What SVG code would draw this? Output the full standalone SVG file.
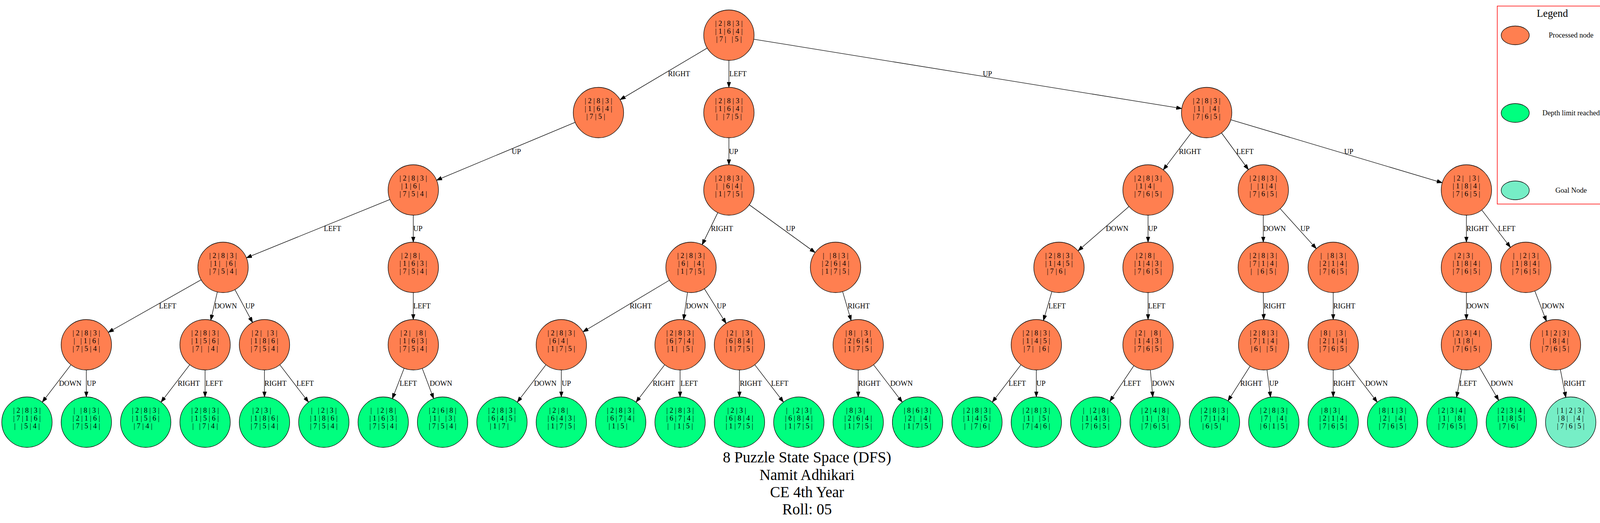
<svg xmlns="http://www.w3.org/2000/svg" width="4133" height="1338" viewBox="0 0 4133 1338">
<style>
text{font-family:"Liberation Serif","Times New Roman",serif;font-size:18.5px;fill:#000}
.nt{text-anchor:middle;white-space:pre}
circle,ellipse{stroke:#000;stroke-width:1.3}
.p{fill:#FF7F50}.d{fill:#00FF7F}.g{fill:#76EEC6}
#edges line{stroke:#000;stroke-width:1.3;marker-end:url(#arr)}
.lt{font-size:26.7px;text-anchor:middle}
.lg{text-anchor:middle}
.ti{font-size:39px;text-anchor:middle}
</style>
<defs>
<marker id="arr" markerUnits="userSpaceOnUse" markerWidth="14" markerHeight="10" refX="14" refY="5" orient="auto"><path d="M0,0 L14,5 L0,10 z" fill="#000" stroke="#000" stroke-width="1"/></marker>
</defs>
<rect width="4133" height="1338" fill="#fff"/>
<g id="edges">
<line x1="1810.5" y1="122.9" x2="1587.5" y2="255.1"/>
<line x1="1866" y1="154.5" x2="1866" y2="223.5"/>
<line x1="1929.7" y1="100.3" x2="3025.3" y2="277.7"/>
<line x1="1472.5" y1="312.9" x2="1117.5" y2="461.1"/>
<line x1="1866" y1="352.5" x2="1866" y2="421.5"/>
<line x1="3050" y1="339.4" x2="2978" y2="434.6"/>
<line x1="3127.1" y1="340" x2="3195.9" y2="434"/>
<line x1="3150.8" y1="306.4" x2="3692.2" y2="467.6"/>
<line x1="998.2" y1="510.3" x2="630.8" y2="659.7"/>
<line x1="1058" y1="550.5" x2="1058" y2="619.5"/>
<line x1="1837.6" y1="543.9" x2="1797.4" y2="626.1"/>
<line x1="1918.2" y1="523.9" x2="2086.8" y2="646.1"/>
<line x1="2890.3" y1="528.3" x2="2759.7" y2="641.7"/>
<line x1="2939" y1="550.5" x2="2939" y2="619.5"/>
<line x1="3234" y1="550.5" x2="3234" y2="619.5"/>
<line x1="3277.3" y1="533.9" x2="3369.7" y2="636.1"/>
<line x1="3754" y1="550.5" x2="3754" y2="619.5"/>
<line x1="3793.3" y1="537.2" x2="3866.7" y2="632.8"/>
<line x1="514.9" y1="715.8" x2="277.1" y2="850.2"/>
<line x1="556.4" y1="746.8" x2="539.6" y2="819.2"/>
<line x1="601.4" y1="740.9" x2="646.6" y2="825.1"/>
<line x1="1058" y1="748.5" x2="1058" y2="817.5"/>
<line x1="1713.6" y1="717" x2="1492.4" y2="849"/>
<line x1="1760" y1="747.9" x2="1750" y2="818.1"/>
<line x1="1803.2" y1="738.7" x2="1858.8" y2="827.3"/>
<line x1="2157.1" y1="745.9" x2="2178.9" y2="820.1"/>
<line x1="2692.9" y1="745.9" x2="2671.1" y2="820.1"/>
<line x1="2939" y1="748.5" x2="2939" y2="817.5"/>
<line x1="3234" y1="748.5" x2="3235" y2="817.5"/>
<line x1="3413" y1="748.5" x2="3413" y2="817.5"/>
<line x1="3754" y1="748.5" x2="3754" y2="817.5"/>
<line x1="3929.1" y1="744.2" x2="3958.9" y2="821.8"/>
<line x1="181.7" y1="933.2" x2="108.3" y2="1028.8"/>
<line x1="221" y1="946.5" x2="221" y2="1015.5"/>
<line x1="485.7" y1="933.2" x2="412.3" y2="1028.8"/>
<line x1="525" y1="946.5" x2="525" y2="1015.5"/>
<line x1="677" y1="946.5" x2="677" y2="1015.5"/>
<line x1="716.3" y1="933.2" x2="789.7" y2="1028.8"/>
<line x1="1034.6" y1="942.1" x2="1004.4" y2="1019.9"/>
<line x1="1080.9" y1="942.3" x2="1110.1" y2="1019.7"/>
<line x1="1397.7" y1="933.2" x2="1324.3" y2="1028.8"/>
<line x1="1437" y1="946.5" x2="1437" y2="1015.5"/>
<line x1="1701.7" y1="933.2" x2="1628.3" y2="1028.8"/>
<line x1="1741" y1="946.5" x2="1741" y2="1015.5"/>
<line x1="1893" y1="946.5" x2="1893" y2="1015.5"/>
<line x1="1932.3" y1="933.2" x2="2005.7" y2="1028.8"/>
<line x1="2197" y1="946.5" x2="2197" y2="1015.5"/>
<line x1="2236.3" y1="933.2" x2="2309.7" y2="1028.8"/>
<line x1="2613.7" y1="933.2" x2="2540.3" y2="1028.8"/>
<line x1="2653" y1="946.5" x2="2653" y2="1015.5"/>
<line x1="2902.8" y1="935.4" x2="2841.2" y2="1026.6"/>
<line x1="2944.8" y1="946.2" x2="2951.2" y2="1015.8"/>
<line x1="3200.4" y1="936.4" x2="3143.6" y2="1025.6"/>
<line x1="3243.4" y1="946" x2="3252.6" y2="1016"/>
<line x1="3413" y1="946.5" x2="3413" y2="1015.5"/>
<line x1="3452.3" y1="933.2" x2="3525.7" y2="1028.8"/>
<line x1="3742.2" y1="945.4" x2="3728.8" y2="1016.6"/>
<line x1="3786.4" y1="937.8" x2="3836.6" y2="1024.2"/>
<line x1="3994.5" y1="945.3" x2="4008.5" y2="1016.7"/>
<text x="1710" y="195">RIGHT</text>
<text x="1867" y="195">LEFT</text>
<text x="2516" y="195">UP</text>
<text x="1310" y="394">UP</text>
<text x="1866" y="394">UP</text>
<text x="3018" y="394">RIGHT</text>
<text x="3165" y="394">LEFT</text>
<text x="3441" y="394">UP</text>
<text x="829" y="591">LEFT</text>
<text x="1058" y="591">UP</text>
<text x="1820" y="591">RIGHT</text>
<text x="2012" y="591">UP</text>
<text x="2831" y="591">DOWN</text>
<text x="2939" y="591">UP</text>
<text x="3234" y="591">DOWN</text>
<text x="3329" y="591">UP</text>
<text x="3754" y="591">RIGHT</text>
<text x="3835" y="591">LEFT</text>
<text x="407" y="789">LEFT</text>
<text x="549" y="789">DOWN</text>
<text x="628" y="789">UP</text>
<text x="1058" y="789">LEFT</text>
<text x="1612" y="789">RIGHT</text>
<text x="1756" y="789">DOWN</text>
<text x="1835" y="789">UP</text>
<text x="2170" y="789">RIGHT</text>
<text x="2684" y="789">LEFT</text>
<text x="2939" y="789">LEFT</text>
<text x="3235" y="789">RIGHT</text>
<text x="3413" y="789">RIGHT</text>
<text x="3754" y="789">DOWN</text>
<text x="3947" y="789">DOWN</text>
<text x="151" y="987">DOWN</text>
<text x="222" y="987">UP</text>
<text x="455" y="987">RIGHT</text>
<text x="526" y="987">LEFT</text>
<text x="677" y="987">RIGHT</text>
<text x="759" y="987">LEFT</text>
<text x="1023" y="987">LEFT</text>
<text x="1100" y="987">DOWN</text>
<text x="1367" y="987">DOWN</text>
<text x="1438" y="987">UP</text>
<text x="1671" y="987">RIGHT</text>
<text x="1742" y="987">LEFT</text>
<text x="1894" y="987">RIGHT</text>
<text x="1974" y="987">LEFT</text>
<text x="2197" y="987">RIGHT</text>
<text x="2279" y="987">DOWN</text>
<text x="2582" y="987">LEFT</text>
<text x="2653" y="987">UP</text>
<text x="2876" y="987">LEFT</text>
<text x="2949" y="987">DOWN</text>
<text x="3175" y="987">RIGHT</text>
<text x="3249" y="987">UP</text>
<text x="3413" y="987">RIGHT</text>
<text x="3495" y="987">DOWN</text>
<text x="3736" y="987">LEFT</text>
<text x="3816" y="987">DOWN</text>
<text x="4003" y="987">RIGHT</text>
</g>
<g id="n_root"><circle class="p" cx="1866" cy="90" r="64.5"/><text class="nt" xml:space="preserve"><tspan x="1866" y="66">| 2 | 8 | 3 |</tspan><tspan x="1866" y="86">| 1 | 6 | 4 |</tspan><tspan x="1866" y="106">| 7 |   | 5 |</tspan></text></g>
<g id="n_A"><circle class="p" cx="1532" cy="288" r="64.5"/><text class="nt" xml:space="preserve"><tspan x="1532" y="264">| 2 | 8 | 3 |</tspan><tspan x="1532" y="284">| 1 | 6 | 4 |</tspan><tspan x="1532" y="304">| 7 | 5 |   </tspan></text></g>
<g id="n_B"><circle class="p" cx="1866" cy="288" r="64.5"/><text class="nt" xml:space="preserve"><tspan x="1866" y="264">| 2 | 8 | 3 |</tspan><tspan x="1866" y="284">| 1 | 6 | 4 |</tspan><tspan x="1866" y="304">|   | 7 | 5 |</tspan></text></g>
<g id="n_C"><circle class="p" cx="3089" cy="288" r="64.5"/><text class="nt" xml:space="preserve"><tspan x="3089" y="264">| 2 | 8 | 3 |</tspan><tspan x="3089" y="284">| 1 |   | 4 |</tspan><tspan x="3089" y="304">| 7 | 6 | 5 |</tspan></text></g>
<g id="n_A1"><circle class="p" cx="1058" cy="486" r="64.5"/><text class="nt" xml:space="preserve"><tspan x="1058" y="462">| 2 | 8 | 3 |</tspan><tspan x="1058" y="482">| 1 | 6 |   </tspan><tspan x="1058" y="502">| 7 | 5 | 4 |</tspan></text></g>
<g id="n_B1"><circle class="p" cx="1866" cy="486" r="64.5"/><text class="nt" xml:space="preserve"><tspan x="1866" y="462">| 2 | 8 | 3 |</tspan><tspan x="1866" y="482">|   | 6 | 4 |</tspan><tspan x="1866" y="502">| 1 | 7 | 5 |</tspan></text></g>
<g id="n_C1"><circle class="p" cx="2939" cy="486" r="64.5"/><text class="nt" xml:space="preserve"><tspan x="2939" y="462">| 2 | 8 | 3 |</tspan><tspan x="2939" y="482">| 1 | 4 |   </tspan><tspan x="2939" y="502">| 7 | 6 | 5 |</tspan></text></g>
<g id="n_C2"><circle class="p" cx="3234" cy="486" r="64.5"/><text class="nt" xml:space="preserve"><tspan x="3234" y="462">| 2 | 8 | 3 |</tspan><tspan x="3234" y="482">|   | 1 | 4 |</tspan><tspan x="3234" y="502">| 7 | 6 | 5 |</tspan></text></g>
<g id="n_C3"><circle class="p" cx="3754" cy="486" r="64.5"/><text class="nt" xml:space="preserve"><tspan x="3754" y="462">| 2 |   | 3 |</tspan><tspan x="3754" y="482">| 1 | 8 | 4 |</tspan><tspan x="3754" y="502">| 7 | 6 | 5 |</tspan></text></g>
<g id="n_A11"><circle class="p" cx="571" cy="684" r="64.5"/><text class="nt" xml:space="preserve"><tspan x="571" y="660">| 2 | 8 | 3 |</tspan><tspan x="571" y="680">| 1 |   | 6 |</tspan><tspan x="571" y="700">| 7 | 5 | 4 |</tspan></text></g>
<g id="n_A12"><circle class="p" cx="1058" cy="684" r="64.5"/><text class="nt" xml:space="preserve"><tspan x="1058" y="660">| 2 | 8 |   </tspan><tspan x="1058" y="680">| 1 | 6 | 3 |</tspan><tspan x="1058" y="700">| 7 | 5 | 4 |</tspan></text></g>
<g id="n_B11"><circle class="p" cx="1769" cy="684" r="64.5"/><text class="nt" xml:space="preserve"><tspan x="1769" y="660">| 2 | 8 | 3 |</tspan><tspan x="1769" y="680">| 6 |   | 4 |</tspan><tspan x="1769" y="700">| 1 | 7 | 5 |</tspan></text></g>
<g id="n_B12"><circle class="p" cx="2139" cy="684" r="64.5"/><text class="nt" xml:space="preserve"><tspan x="2139" y="660">|   | 8 | 3 |</tspan><tspan x="2139" y="680">| 2 | 6 | 4 |</tspan><tspan x="2139" y="700">| 1 | 7 | 5 |</tspan></text></g>
<g id="n_C11"><circle class="p" cx="2711" cy="684" r="64.5"/><text class="nt" xml:space="preserve"><tspan x="2711" y="660">| 2 | 8 | 3 |</tspan><tspan x="2711" y="680">| 1 | 4 | 5 |</tspan><tspan x="2711" y="700">| 7 | 6 |   </tspan></text></g>
<g id="n_C12"><circle class="p" cx="2939" cy="684" r="64.5"/><text class="nt" xml:space="preserve"><tspan x="2939" y="660">| 2 | 8 |   </tspan><tspan x="2939" y="680">| 1 | 4 | 3 |</tspan><tspan x="2939" y="700">| 7 | 6 | 5 |</tspan></text></g>
<g id="n_C21"><circle class="p" cx="3234" cy="684" r="64.5"/><text class="nt" xml:space="preserve"><tspan x="3234" y="660">| 2 | 8 | 3 |</tspan><tspan x="3234" y="680">| 7 | 1 | 4 |</tspan><tspan x="3234" y="700">|   | 6 | 5 |</tspan></text></g>
<g id="n_C22"><circle class="p" cx="3413" cy="684" r="64.5"/><text class="nt" xml:space="preserve"><tspan x="3413" y="660">|   | 8 | 3 |</tspan><tspan x="3413" y="680">| 2 | 1 | 4 |</tspan><tspan x="3413" y="700">| 7 | 6 | 5 |</tspan></text></g>
<g id="n_C31"><circle class="p" cx="3754" cy="684" r="64.5"/><text class="nt" xml:space="preserve"><tspan x="3754" y="660">| 2 | 3 |   </tspan><tspan x="3754" y="680">| 1 | 8 | 4 |</tspan><tspan x="3754" y="700">| 7 | 6 | 5 |</tspan></text></g>
<g id="n_C32"><circle class="p" cx="3906" cy="684" r="64.5"/><text class="nt" xml:space="preserve"><tspan x="3906" y="660">|   | 2 | 3 |</tspan><tspan x="3906" y="680">| 1 | 8 | 4 |</tspan><tspan x="3906" y="700">| 7 | 6 | 5 |</tspan></text></g>
<g id="n_D1"><circle class="p" cx="221" cy="882" r="64.5"/><text class="nt" xml:space="preserve"><tspan x="221" y="858">| 2 | 8 | 3 |</tspan><tspan x="221" y="878">|   | 1 | 6 |</tspan><tspan x="221" y="898">| 7 | 5 | 4 |</tspan></text></g>
<g id="n_D2"><circle class="p" cx="525" cy="882" r="64.5"/><text class="nt" xml:space="preserve"><tspan x="525" y="858">| 2 | 8 | 3 |</tspan><tspan x="525" y="878">| 1 | 5 | 6 |</tspan><tspan x="525" y="898">| 7 |   | 4 |</tspan></text></g>
<g id="n_D3"><circle class="p" cx="677" cy="882" r="64.5"/><text class="nt" xml:space="preserve"><tspan x="677" y="858">| 2 |   | 3 |</tspan><tspan x="677" y="878">| 1 | 8 | 6 |</tspan><tspan x="677" y="898">| 7 | 5 | 4 |</tspan></text></g>
<g id="n_D4"><circle class="p" cx="1058" cy="882" r="64.5"/><text class="nt" xml:space="preserve"><tspan x="1058" y="858">| 2 |   | 8 |</tspan><tspan x="1058" y="878">| 1 | 6 | 3 |</tspan><tspan x="1058" y="898">| 7 | 5 | 4 |</tspan></text></g>
<g id="n_D5"><circle class="p" cx="1437" cy="882" r="64.5"/><text class="nt" xml:space="preserve"><tspan x="1437" y="858">| 2 | 8 | 3 |</tspan><tspan x="1437" y="878">| 6 | 4 |   </tspan><tspan x="1437" y="898">| 1 | 7 | 5 |</tspan></text></g>
<g id="n_D6"><circle class="p" cx="1741" cy="882" r="64.5"/><text class="nt" xml:space="preserve"><tspan x="1741" y="858">| 2 | 8 | 3 |</tspan><tspan x="1741" y="878">| 6 | 7 | 4 |</tspan><tspan x="1741" y="898">| 1 |   | 5 |</tspan></text></g>
<g id="n_D7"><circle class="p" cx="1893" cy="882" r="64.5"/><text class="nt" xml:space="preserve"><tspan x="1893" y="858">| 2 |   | 3 |</tspan><tspan x="1893" y="878">| 6 | 8 | 4 |</tspan><tspan x="1893" y="898">| 1 | 7 | 5 |</tspan></text></g>
<g id="n_D8"><circle class="p" cx="2197" cy="882" r="64.5"/><text class="nt" xml:space="preserve"><tspan x="2197" y="858">| 8 |   | 3 |</tspan><tspan x="2197" y="878">| 2 | 6 | 4 |</tspan><tspan x="2197" y="898">| 1 | 7 | 5 |</tspan></text></g>
<g id="n_D9"><circle class="p" cx="2653" cy="882" r="64.5"/><text class="nt" xml:space="preserve"><tspan x="2653" y="858">| 2 | 8 | 3 |</tspan><tspan x="2653" y="878">| 1 | 4 | 5 |</tspan><tspan x="2653" y="898">| 7 |   | 6 |</tspan></text></g>
<g id="n_D10"><circle class="p" cx="2939" cy="882" r="64.5"/><text class="nt" xml:space="preserve"><tspan x="2939" y="858">| 2 |   | 8 |</tspan><tspan x="2939" y="878">| 1 | 4 | 3 |</tspan><tspan x="2939" y="898">| 7 | 6 | 5 |</tspan></text></g>
<g id="n_D11"><circle class="p" cx="3235" cy="882" r="64.5"/><text class="nt" xml:space="preserve"><tspan x="3235" y="858">| 2 | 8 | 3 |</tspan><tspan x="3235" y="878">| 7 | 1 | 4 |</tspan><tspan x="3235" y="898">| 6 |   | 5 |</tspan></text></g>
<g id="n_D12"><circle class="p" cx="3413" cy="882" r="64.5"/><text class="nt" xml:space="preserve"><tspan x="3413" y="858">| 8 |   | 3 |</tspan><tspan x="3413" y="878">| 2 | 1 | 4 |</tspan><tspan x="3413" y="898">| 7 | 6 | 5 |</tspan></text></g>
<g id="n_D13"><circle class="p" cx="3754" cy="882" r="64.5"/><text class="nt" xml:space="preserve"><tspan x="3754" y="858">| 2 | 3 | 4 |</tspan><tspan x="3754" y="878">| 1 | 8 |   </tspan><tspan x="3754" y="898">| 7 | 6 | 5 |</tspan></text></g>
<g id="n_D14"><circle class="p" cx="3982" cy="882" r="64.5"/><text class="nt" xml:space="preserve"><tspan x="3982" y="858">| 1 | 2 | 3 |</tspan><tspan x="3982" y="878">|   | 8 | 4 |</tspan><tspan x="3982" y="898">| 7 | 6 | 5 |</tspan></text></g>
<g id="n_L0"><circle class="d" cx="69" cy="1080" r="64.5"/><text class="nt" xml:space="preserve"><tspan x="69" y="1056">| 2 | 8 | 3 |</tspan><tspan x="69" y="1076">| 7 | 1 | 6 |</tspan><tspan x="69" y="1096">|   | 5 | 4 |</tspan></text></g>
<g id="n_L1"><circle class="d" cx="221" cy="1080" r="64.5"/><text class="nt" xml:space="preserve"><tspan x="221" y="1056">|   | 8 | 3 |</tspan><tspan x="221" y="1076">| 2 | 1 | 6 |</tspan><tspan x="221" y="1096">| 7 | 5 | 4 |</tspan></text></g>
<g id="n_L2"><circle class="d" cx="373" cy="1080" r="64.5"/><text class="nt" xml:space="preserve"><tspan x="373" y="1056">| 2 | 8 | 3 |</tspan><tspan x="373" y="1076">| 1 | 5 | 6 |</tspan><tspan x="373" y="1096">| 7 | 4 |   </tspan></text></g>
<g id="n_L3"><circle class="d" cx="525" cy="1080" r="64.5"/><text class="nt" xml:space="preserve"><tspan x="525" y="1056">| 2 | 8 | 3 |</tspan><tspan x="525" y="1076">| 1 | 5 | 6 |</tspan><tspan x="525" y="1096">|   | 7 | 4 |</tspan></text></g>
<g id="n_L4"><circle class="d" cx="677" cy="1080" r="64.5"/><text class="nt" xml:space="preserve"><tspan x="677" y="1056">| 2 | 3 |   </tspan><tspan x="677" y="1076">| 1 | 8 | 6 |</tspan><tspan x="677" y="1096">| 7 | 5 | 4 |</tspan></text></g>
<g id="n_L5"><circle class="d" cx="829" cy="1080" r="64.5"/><text class="nt" xml:space="preserve"><tspan x="829" y="1056">|   | 2 | 3 |</tspan><tspan x="829" y="1076">| 1 | 8 | 6 |</tspan><tspan x="829" y="1096">| 7 | 5 | 4 |</tspan></text></g>
<g id="n_L6"><circle class="d" cx="981" cy="1080" r="64.5"/><text class="nt" xml:space="preserve"><tspan x="981" y="1056">|   | 2 | 8 |</tspan><tspan x="981" y="1076">| 1 | 6 | 3 |</tspan><tspan x="981" y="1096">| 7 | 5 | 4 |</tspan></text></g>
<g id="n_L7"><circle class="d" cx="1133" cy="1080" r="64.5"/><text class="nt" xml:space="preserve"><tspan x="1133" y="1056">| 2 | 6 | 8 |</tspan><tspan x="1133" y="1076">| 1 |   | 3 |</tspan><tspan x="1133" y="1096">| 7 | 5 | 4 |</tspan></text></g>
<g id="n_L8"><circle class="d" cx="1285" cy="1080" r="64.5"/><text class="nt" xml:space="preserve"><tspan x="1285" y="1056">| 2 | 8 | 3 |</tspan><tspan x="1285" y="1076">| 6 | 4 | 5 |</tspan><tspan x="1285" y="1096">| 1 | 7 |   </tspan></text></g>
<g id="n_L9"><circle class="d" cx="1437" cy="1080" r="64.5"/><text class="nt" xml:space="preserve"><tspan x="1437" y="1056">| 2 | 8 |   </tspan><tspan x="1437" y="1076">| 6 | 4 | 3 |</tspan><tspan x="1437" y="1096">| 1 | 7 | 5 |</tspan></text></g>
<g id="n_L10"><circle class="d" cx="1589" cy="1080" r="64.5"/><text class="nt" xml:space="preserve"><tspan x="1589" y="1056">| 2 | 8 | 3 |</tspan><tspan x="1589" y="1076">| 6 | 7 | 4 |</tspan><tspan x="1589" y="1096">| 1 | 5 |   </tspan></text></g>
<g id="n_L11"><circle class="d" cx="1741" cy="1080" r="64.5"/><text class="nt" xml:space="preserve"><tspan x="1741" y="1056">| 2 | 8 | 3 |</tspan><tspan x="1741" y="1076">| 6 | 7 | 4 |</tspan><tspan x="1741" y="1096">|   | 1 | 5 |</tspan></text></g>
<g id="n_L12"><circle class="d" cx="1893" cy="1080" r="64.5"/><text class="nt" xml:space="preserve"><tspan x="1893" y="1056">| 2 | 3 |   </tspan><tspan x="1893" y="1076">| 6 | 8 | 4 |</tspan><tspan x="1893" y="1096">| 1 | 7 | 5 |</tspan></text></g>
<g id="n_L13"><circle class="d" cx="2045" cy="1080" r="64.5"/><text class="nt" xml:space="preserve"><tspan x="2045" y="1056">|   | 2 | 3 |</tspan><tspan x="2045" y="1076">| 6 | 8 | 4 |</tspan><tspan x="2045" y="1096">| 1 | 7 | 5 |</tspan></text></g>
<g id="n_L14"><circle class="d" cx="2197" cy="1080" r="64.5"/><text class="nt" xml:space="preserve"><tspan x="2197" y="1056">| 8 | 3 |   </tspan><tspan x="2197" y="1076">| 2 | 6 | 4 |</tspan><tspan x="2197" y="1096">| 1 | 7 | 5 |</tspan></text></g>
<g id="n_L15"><circle class="d" cx="2349" cy="1080" r="64.5"/><text class="nt" xml:space="preserve"><tspan x="2349" y="1056">| 8 | 6 | 3 |</tspan><tspan x="2349" y="1076">| 2 |   | 4 |</tspan><tspan x="2349" y="1096">| 1 | 7 | 5 |</tspan></text></g>
<g id="n_L16"><circle class="d" cx="2501" cy="1080" r="64.5"/><text class="nt" xml:space="preserve"><tspan x="2501" y="1056">| 2 | 8 | 3 |</tspan><tspan x="2501" y="1076">| 1 | 4 | 5 |</tspan><tspan x="2501" y="1096">|   | 7 | 6 |</tspan></text></g>
<g id="n_L17"><circle class="d" cx="2653" cy="1080" r="64.5"/><text class="nt" xml:space="preserve"><tspan x="2653" y="1056">| 2 | 8 | 3 |</tspan><tspan x="2653" y="1076">| 1 |   | 5 |</tspan><tspan x="2653" y="1096">| 7 | 4 | 6 |</tspan></text></g>
<g id="n_L18"><circle class="d" cx="2805" cy="1080" r="64.5"/><text class="nt" xml:space="preserve"><tspan x="2805" y="1056">|   | 2 | 8 |</tspan><tspan x="2805" y="1076">| 1 | 4 | 3 |</tspan><tspan x="2805" y="1096">| 7 | 6 | 5 |</tspan></text></g>
<g id="n_L19"><circle class="d" cx="2957" cy="1080" r="64.5"/><text class="nt" xml:space="preserve"><tspan x="2957" y="1056">| 2 | 4 | 8 |</tspan><tspan x="2957" y="1076">| 1 |   | 3 |</tspan><tspan x="2957" y="1096">| 7 | 6 | 5 |</tspan></text></g>
<g id="n_L20"><circle class="d" cx="3109" cy="1080" r="64.5"/><text class="nt" xml:space="preserve"><tspan x="3109" y="1056">| 2 | 8 | 3 |</tspan><tspan x="3109" y="1076">| 7 | 1 | 4 |</tspan><tspan x="3109" y="1096">| 6 | 5 |   </tspan></text></g>
<g id="n_L21"><circle class="d" cx="3261" cy="1080" r="64.5"/><text class="nt" xml:space="preserve"><tspan x="3261" y="1056">| 2 | 8 | 3 |</tspan><tspan x="3261" y="1076">| 7 |   | 4 |</tspan><tspan x="3261" y="1096">| 6 | 1 | 5 |</tspan></text></g>
<g id="n_L22"><circle class="d" cx="3413" cy="1080" r="64.5"/><text class="nt" xml:space="preserve"><tspan x="3413" y="1056">| 8 | 3 |   </tspan><tspan x="3413" y="1076">| 2 | 1 | 4 |</tspan><tspan x="3413" y="1096">| 7 | 6 | 5 |</tspan></text></g>
<g id="n_L23"><circle class="d" cx="3565" cy="1080" r="64.5"/><text class="nt" xml:space="preserve"><tspan x="3565" y="1056">| 8 | 1 | 3 |</tspan><tspan x="3565" y="1076">| 2 |   | 4 |</tspan><tspan x="3565" y="1096">| 7 | 6 | 5 |</tspan></text></g>
<g id="n_L24"><circle class="d" cx="3717" cy="1080" r="64.5"/><text class="nt" xml:space="preserve"><tspan x="3717" y="1056">| 2 | 3 | 4 |</tspan><tspan x="3717" y="1076">| 1 |   | 8 |</tspan><tspan x="3717" y="1096">| 7 | 6 | 5 |</tspan></text></g>
<g id="n_L25"><circle class="d" cx="3869" cy="1080" r="64.5"/><text class="nt" xml:space="preserve"><tspan x="3869" y="1056">| 2 | 3 | 4 |</tspan><tspan x="3869" y="1076">| 1 | 8 | 5 |</tspan><tspan x="3869" y="1096">| 7 | 6 |   </tspan></text></g>
<g id="n_L26"><circle class="g" cx="4021" cy="1080" r="64.5"/><text class="nt" xml:space="preserve"><tspan x="4021" y="1056">| 1 | 2 | 3 |</tspan><tspan x="4021" y="1076">| 8 |   | 4 |</tspan><tspan x="4021" y="1096">| 7 | 6 | 5 |</tspan></text></g>
<g id="legend">
<rect x="3833" y="15.5" width="284" height="506.5" fill="none" stroke="#ff0000" stroke-width="1.5"/>
<text class="lt" x="3974" y="43">Legend</text>
<ellipse class="p" cx="3879" cy="90.5" rx="36" ry="24"/>
<text class="lg" x="4022" y="96">Processed node</text>
<ellipse class="d" cx="3879" cy="289" rx="36" ry="24"/>
<text class="lg" x="4022" y="295">Depth limit reached</text>
<ellipse class="g" cx="3879" cy="487" rx="36" ry="24"/>
<text class="lg" x="4022" y="493">Goal Node</text>
</g>
<g id="title">
<text class="ti" x="2066" y="1183">8 Puzzle State Space (DFS)</text>
<text class="ti" x="2066" y="1228">Namit Adhikari</text>
<text class="ti" x="2066" y="1272">CE 4th Year</text>
<text class="ti" x="2066" y="1316">Roll: 05</text>
</g>
</svg>
